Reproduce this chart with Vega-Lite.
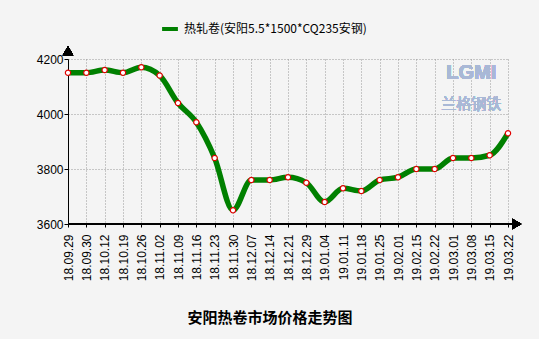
{
  "$schema": "https://vega.github.io/schema/vega-lite/v6.json",
  "width": 440,
  "height": 165,
  "autosize": "none",
  "padding": {"left": 68, "top": 59, "right": 31, "bottom": 115},
  "background": "#f4f4f4",
  "config": {
    "view": {"stroke": null},
    "font": "Liberation Sans"
  },
  "title": {
    "text": "安阳热卷市场价格走势图",
    "orient": "bottom",
    "anchor": "middle",
    "dx": -18,
    "offset": 30,
    "font": "Noto Sans CJK SC",
    "fontSize": 15,
    "fontWeight": "bold",
    "color": "#000000"
  },
  "data": {
    "values": [
      {"date": "18.09.29", "price": 4150, "series": "热轧卷(安阳5.5*1500*CQ235安钢)"},
      {"date": "18.09.30", "price": 4150, "series": "热轧卷(安阳5.5*1500*CQ235安钢)"},
      {"date": "18.10.12", "price": 4160, "series": "热轧卷(安阳5.5*1500*CQ235安钢)"},
      {"date": "18.10.19", "price": 4150, "series": "热轧卷(安阳5.5*1500*CQ235安钢)"},
      {"date": "18.10.26", "price": 4170, "series": "热轧卷(安阳5.5*1500*CQ235安钢)"},
      {"date": "18.11.02", "price": 4140, "series": "热轧卷(安阳5.5*1500*CQ235安钢)"},
      {"date": "18.11.09", "price": 4040, "series": "热轧卷(安阳5.5*1500*CQ235安钢)"},
      {"date": "18.11.16", "price": 3970, "series": "热轧卷(安阳5.5*1500*CQ235安钢)"},
      {"date": "18.11.23", "price": 3840, "series": "热轧卷(安阳5.5*1500*CQ235安钢)"},
      {"date": "18.11.30", "price": 3650, "series": "热轧卷(安阳5.5*1500*CQ235安钢)"},
      {"date": "18.12.07", "price": 3760, "series": "热轧卷(安阳5.5*1500*CQ235安钢)"},
      {"date": "18.12.14", "price": 3760, "series": "热轧卷(安阳5.5*1500*CQ235安钢)"},
      {"date": "18.12.21", "price": 3770, "series": "热轧卷(安阳5.5*1500*CQ235安钢)"},
      {"date": "18.12.29", "price": 3750, "series": "热轧卷(安阳5.5*1500*CQ235安钢)"},
      {"date": "19.01.04", "price": 3680, "series": "热轧卷(安阳5.5*1500*CQ235安钢)"},
      {"date": "19.01.11", "price": 3730, "series": "热轧卷(安阳5.5*1500*CQ235安钢)"},
      {"date": "19.01.18", "price": 3720, "series": "热轧卷(安阳5.5*1500*CQ235安钢)"},
      {"date": "19.01.25", "price": 3760, "series": "热轧卷(安阳5.5*1500*CQ235安钢)"},
      {"date": "19.02.01", "price": 3770, "series": "热轧卷(安阳5.5*1500*CQ235安钢)"},
      {"date": "19.02.15", "price": 3800, "series": "热轧卷(安阳5.5*1500*CQ235安钢)"},
      {"date": "19.02.22", "price": 3800, "series": "热轧卷(安阳5.5*1500*CQ235安钢)"},
      {"date": "19.03.01", "price": 3840, "series": "热轧卷(安阳5.5*1500*CQ235安钢)"},
      {"date": "19.03.08", "price": 3840, "series": "热轧卷(安阳5.5*1500*CQ235安钢)"},
      {"date": "19.03.15", "price": 3850, "series": "热轧卷(安阳5.5*1500*CQ235安钢)"},
      {"date": "19.03.22", "price": 3930, "series": "热轧卷(安阳5.5*1500*CQ235安钢)"}
    ]
  },
  "layer": [
    {
      "layer": [
        {
          "mark": {"type": "line", "interpolate": "monotone", "strokeWidth": 5.5},
          "encoding": {
            "x": {
              "field": "date", "type": "ordinal", "sort": null,
              "scale": {"type": "point", "padding": 0},
              "axis": {
                "title": null, "labelAngle": 270, "labelAlign": "right", "labelBaseline": "middle",
                "labelFontSize": 12, "labelColor": "#000000", "labelPadding": 7,
                "tickSize": 3, "tickColor": "#000000", "domainColor": "#000000", "domainWidth": 1,
                "grid": true, "gridColor": "#999999", "gridDash": [1, 2], "gridWidth": 1
              }
            },
            "y": {
              "field": "price", "type": "quantitative",
              "scale": {"domain": [3600, 4200], "nice": false, "zero": false},
              "axis": {
                "title": null, "values": [3600, 3800, 4000, 4200], "format": "d", "labelFontSize": 12,
                "labelColor": "#000000", "labelPadding": 1, "tickSize": 4, "tickColor": "#000000",
                "domainColor": "#000000", "domainWidth": 1,
                "grid": true, "gridColor": "#999999", "gridDash": [1, 2], "gridWidth": 1
              }
            },
            "color": {
              "field": "series", "type": "nominal",
              "scale": {"range": ["#008000"]},
              "legend": {
                "title": null, "orient": "none", "legendX": 92, "legendY": -40,
                "symbolType": "stroke", "symbolStrokeWidth": 4, "symbolSize": 250,
                "labelFont": "Noto Sans CJK SC", "labelFontSize": 12, "labelColor": "#000000",
                "labelLimit": 0
              }
            }
          }
        },
        {
          "mark": {"type": "point", "shape": "circle", "filled": true, "fill": "#ffffff", "stroke": "#e00000", "strokeWidth": 1.2, "size": 28, "opacity": 1},
          "encoding": {
            "x": {"field": "date", "type": "ordinal", "sort": null},
            "y": {"field": "price", "type": "quantitative"}
          }
        },
        {
          "mark": {"type": "text", "font": "Liberation Sans", "fontWeight": "bold", "fontSize": 20, "color": "#a9b8d6", "opacity": 0.9},
          "encoding": {
            "x": {"datum": "19.03.08"},
            "y": {"datum": 4150},
            "text": {"value": "LGMI"}
          }
        },
        {
          "mark": {"type": "text", "font": "Noto Sans CJK SC", "fontSize": 15, "color": "#a9b8d6", "opacity": 0.9},
          "encoding": {
            "x": {"datum": "19.03.08"},
            "y": {"datum": 4035},
            "text": {"value": "兰格钢铁"}
          }
        },
        {
          "mark": {"type": "point", "shape": "triangle-up", "filled": true, "color": "#000000", "size": 110, "opacity": 1, "clip": false},
          "encoding": {
            "x": {"datum": "18.09.29"},
            "y": {"datum": 4230}
          }
        }
      ]
    },
    {
      "layer": [
        {
          "mark": {"type": "rule", "color": "#000000", "strokeWidth": 1, "clip": false},
          "encoding": {
            "x": {"datum": 0, "type": "quantitative", "scale": {"domain": [0, 1], "nice": false, "zero": false}, "axis": null},
            "x2": {"datum": 1.01},
            "y": {"datum": 3600}
          }
        },
        {
          "mark": {"type": "point", "shape": "triangle-right", "filled": true, "color": "#000000", "size": 110, "opacity": 1, "clip": false},
          "encoding": {
            "x": {"datum": 1.02, "type": "quantitative", "axis": null},
            "y": {"datum": 3600}
          }
        }
      ]
    }
  ],
  "resolve": {"scale": {"x": "independent"}, "axis": {"x": "independent"}}
}
